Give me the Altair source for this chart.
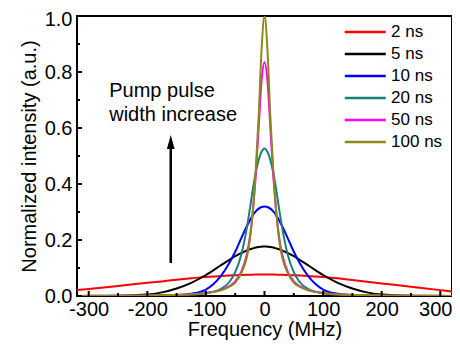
import altair as alt
import pandas as pd

SERIES = ["2 ns", "5 ns", "10 ns", "20 ns", "50 ns", "100 ns"]
COLORS = ["#ff0000", "#000000", "#0000ff", "#1a7f79", "#ff00ff", "#8a8a14"]

FREQ = [-320, -300, -250, -200, -175, -150, -125, -100, -75, -60, -50, -40, -30, -25, -20, -15, -10, -5,
        0,
        5, 10, 15, 20, 25, 30, 40, 50, 60, 75, 100, 125, 150, 175, 200, 250, 300, 320]

RED = [0.021, 0.025, 0.036, 0.047, 0.052, 0.058, 0.063, 0.068, 0.071, 0.073, 0.074, 0.075, 0.076, 0.076, 0.076, 0.077, 0.077, 0.077,
       0.077,
       0.077, 0.077, 0.077, 0.076, 0.076, 0.076, 0.075, 0.074, 0.073, 0.071, 0.068, 0.063, 0.057, 0.051, 0.045, 0.033, 0.021, 0.016]
BLACK = [0.0, 0.0, 0.001, 0.005, 0.013, 0.027, 0.047, 0.075, 0.109, 0.129, 0.142, 0.153, 0.163, 0.167, 0.170, 0.173, 0.175, 0.176,
         0.177,
         0.176, 0.175, 0.173, 0.170, 0.167, 0.163, 0.153, 0.142, 0.129, 0.109, 0.075, 0.047, 0.027, 0.013, 0.005, 0.001, 0.0, 0.0]
BLUE = [0.0, 0.0, 0.0, 0.0, 0.001, 0.003, 0.008, 0.023, 0.070, 0.118, 0.158, 0.205, 0.250, 0.270, 0.288, 0.302, 0.312, 0.318,
        0.320,
        0.318, 0.312, 0.302, 0.288, 0.270, 0.250, 0.205, 0.158, 0.118, 0.070, 0.023, 0.008, 0.003, 0.001, 0.0, 0.0, 0.0, 0.0]
TEAL = [0.0, 0.0, 0.0, 0.001, 0.002, 0.003, 0.005, 0.010, 0.025, 0.050, 0.085, 0.145, 0.245, 0.310, 0.380, 0.440, 0.485, 0.515,
        0.527,
        0.515, 0.485, 0.440, 0.380, 0.310, 0.245, 0.145, 0.085, 0.050, 0.025, 0.010, 0.005, 0.003, 0.002, 0.001, 0.0, 0.0, 0.0]
MAGENTA = [0.0, 0.001, 0.001, 0.002, 0.003, 0.004, 0.006, 0.011, 0.021, 0.035, 0.052, 0.085, 0.150, 0.210, 0.300, 0.430, 0.600, 0.770,
           0.835,
           0.770, 0.600, 0.430, 0.300, 0.210, 0.150, 0.085, 0.052, 0.035, 0.021, 0.011, 0.006, 0.004, 0.003, 0.002, 0.001, 0.001, 0.0]
OLIVE = [0.0, 0.001, 0.001, 0.002, 0.003, 0.004, 0.006, 0.010, 0.020, 0.033, 0.048, 0.080, 0.140, 0.200, 0.300, 0.450, 0.640, 0.880,
         1.000,
         0.880, 0.640, 0.450, 0.300, 0.200, 0.140, 0.080, 0.048, 0.033, 0.020, 0.010, 0.006, 0.004, 0.003, 0.002, 0.001, 0.001, 0.0]

VALUES = [RED, BLACK, BLUE, TEAL, MAGENTA, OLIVE]

X_MAJOR = [-300, -200, -100, 0, 100, 200, 300]
X_MINOR = [-250, -150, -50, 50, 150, 250]
Y_MAJOR = [0.0, 0.2, 0.4, 0.6, 0.8, 1.0]
Y_MINOR = [0.1, 0.3, 0.5, 0.7, 0.9]

ANNOT_LINES = ["Pump pulse", "width increase"]

FONT = "Liberation Sans"
XDOM = [-320, 320]
YDOM = [0, 1]

xs = alt.Scale(domain=XDOM, nice=False, zero=False)
ys = alt.Scale(domain=YDOM, nice=False, zero=False)

layers = []
for i, (name, col, vals) in enumerate(zip(SERIES, COLORS, VALUES)):
    d = pd.DataFrame({"freq": FREQ, "value": vals})
    if i == 0:
        xenc = alt.X("freq:Q", scale=xs, axis=alt.Axis(
            values=X_MAJOR, labelExpr="datum.value", ticks=False, domain=False, grid=False,
            labelFontSize=20, titleFontSize=20, labelFont=FONT, titleFont=FONT,
            labelColor="black", titleColor="black", titleFontWeight="normal",
            labelFlush=False, labelOverlap=False, labelPadding=3,
            labelOffset={"condition": {"test": "datum.value == 300", "value": -5}, "value": 0},
            titleBaseline="alphabetic", titleY=39,
            title="Frequency (MHz)"))
        yenc = alt.Y("value:Q", scale=ys, axis=alt.Axis(
            values=Y_MAJOR, format=".1f", ticks=False, domain=False, grid=False,
            labelFontSize=20, titleFontSize=20, labelFont=FONT, titleFont=FONT,
            labelColor="black", titleColor="black", titleFontWeight="normal",
            labelFlush=False, labelPadding=5, titlePadding=5,
            labelOffset={"condition": {"test": "datum.value == 1", "value": 3}, "value": 0},
            title="Normalized intensity (a.u.)"))
    else:
        xenc = alt.X("freq:Q", scale=xs)
        yenc = alt.Y("value:Q", scale=ys)
    layers.append(
        alt.Chart(d).mark_line(color=col, strokeWidth=2, interpolate="monotone", clip=True)
        .encode(x=xenc, y=yenc)
    )

# inward ticks
H = 280
xt = pd.DataFrame({"t": X_MAJOR})
xm = pd.DataFrame({"t": X_MINOR})
yt = pd.DataFrame({"t": Y_MAJOR})
ym = pd.DataFrame({"t": Y_MINOR})
layers.append(alt.Chart(xt).mark_rule(color="black", strokeWidth=2).encode(
    x=alt.X("t:Q", scale=xs), y=alt.value(H), y2=alt.value(H - 5)))
layers.append(alt.Chart(xm).mark_rule(color="black", strokeWidth=2).encode(
    x=alt.X("t:Q", scale=xs), y=alt.value(H), y2=alt.value(H - 3)))
layers.append(alt.Chart(yt).mark_rule(color="black", strokeWidth=2).encode(
    y=alt.Y("t:Q", scale=ys), x=alt.value(0), x2=alt.value(5)))
layers.append(alt.Chart(ym).mark_rule(color="black", strokeWidth=2).encode(
    y=alt.Y("t:Q", scale=ys), x=alt.value(0), x2=alt.value(3)))

# legend (manual)
LEG_Y0 = 0.943
LEG_DY = 0.0786
leg = pd.DataFrame({
    "series": SERIES,
    "y": [LEG_Y0 - k * LEG_DY for k in range(len(SERIES))],
    "x1": [137] * len(SERIES),
    "x2": [207] * len(SERIES),
    "xt": [216] * len(SERIES),
})
cscale = alt.Scale(domain=SERIES, range=COLORS)
layers.append(alt.Chart(leg).mark_rule(strokeWidth=2.5).encode(
    x=alt.X("x1:Q", scale=xs), x2="x2:Q", y=alt.Y("y:Q", scale=ys),
    color=alt.Color("series:N", scale=cscale, legend=None)))
layers.append(alt.Chart(leg).mark_text(align="left", baseline="middle", fontSize=17, font=FONT, color="black").encode(
    x=alt.X("xt:Q", scale=xs), y=alt.Y("y:Q", scale=ys), text="series:N"))

# annotation
ann = pd.DataFrame({"x": [-265, -265], "y": [0.711, 0.625], "txt": ANNOT_LINES})
layers.append(alt.Chart(ann).mark_text(align="left", baseline="alphabetic", fontSize=20, font=FONT, color="black").encode(
    x=alt.X("x:Q", scale=xs), y=alt.Y("y:Q", scale=ys), text="txt:N"))

arrow = pd.DataFrame({"x": [-160], "y1": [0.118], "y2": [0.53], "yh": [0.55]})
layers.append(alt.Chart(arrow).mark_rule(color="black", strokeWidth=2.5).encode(
    x=alt.X("x:Q", scale=xs), y=alt.Y("y1:Q", scale=ys), y2="y2:Q"))
layers.append(alt.Chart(arrow).mark_point(
    shape="M0,-1 L0.55,1 L-0.55,1 Z", filled=True, color="black", size=196, opacity=1).encode(
    x=alt.X("x:Q", scale=xs), y=alt.Y("yh:Q", scale=ys)))

chart = alt.layer(*layers).properties(
    width=375, height=280,
    autosize=alt.AutoSizeParams(type="none"),
    padding={"left": 69, "top": 8, "right": 0, "bottom": 44},
    background="white",
).configure_view(stroke="black", strokeWidth=2)

chart.save("out.html", embed_options={"renderer": "svg", "actions": False})
